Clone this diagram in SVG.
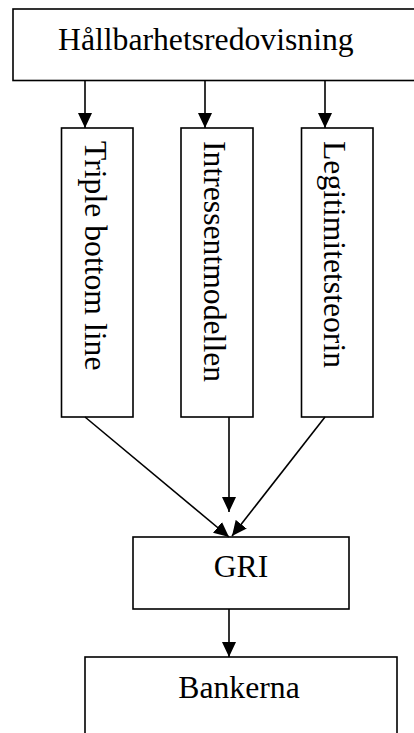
<svg xmlns="http://www.w3.org/2000/svg" width="414" height="733" viewBox="0 0 414 733">
  <style>
    .box { fill: #ffffff; stroke: #000000; stroke-width: 1.6; }
    .lbl { font-family: "Liberation Serif", "Times New Roman", serif; font-size: 31.7px; fill: #000000; }
    .conn { stroke: #000000; stroke-width: 1.6; fill: none; marker-end: url(#arrow); }
  </style>
  <defs>
    <marker id="arrow" markerUnits="userSpaceOnUse" markerWidth="15" markerHeight="14" refX="15" refY="7" orient="auto" viewBox="0 0 15 14">
      <path d="M0,0 L15,7 L0,14 z" fill="#000000"/>
    </marker>
  </defs>
  <rect width="414" height="733" fill="#ffffff"/>

  <g id="node-hallbarhetsredovisning">
    <rect class="box" x="13" y="9" width="420" height="71.5"/>
    <text class="lbl" x="58" y="50">Hållbarhetsredovisning</text>
  </g>

  <g id="node-triple">
    <rect class="box" x="61.5" y="128" width="71.5" height="289"/>
    <text class="lbl" transform="translate(85,141) rotate(90)">Triple bottom line</text>
  </g>

  <g id="node-intressent">
    <rect class="box" x="181" y="128" width="72" height="289"/>
    <text class="lbl" transform="translate(204,141) rotate(90)">Intressentmodellen</text>
  </g>

  <g id="node-legitimitet">
    <rect class="box" x="301.5" y="128" width="71.5" height="289"/>
    <text class="lbl" transform="translate(323.5,141) rotate(90)">Legitimitetsteorin</text>
  </g>

  <g id="node-gri">
    <rect class="box" x="133" y="537" width="216" height="72"/>
    <text class="lbl" x="241" y="577" text-anchor="middle">GRI</text>
  </g>

  <g id="node-bankerna">
    <rect class="box" x="85" y="657" width="312" height="120"/>
    <text class="lbl" x="239" y="698" text-anchor="middle">Bankerna</text>
  </g>

  <g id="connectors">
    <line class="conn" x1="85" y1="80.5" x2="85" y2="128"/>
    <line class="conn" x1="205" y1="80.5" x2="205" y2="128"/>
    <line class="conn" x1="325" y1="80.5" x2="325" y2="128"/>
    <line class="conn" x1="85" y1="417" x2="229" y2="537"/>
    <line class="conn" x1="229" y1="417" x2="229" y2="512"/>
    <line class="conn" x1="325" y1="417" x2="232" y2="536"/>
    <line class="conn" x1="229" y1="609" x2="229" y2="657"/>
  </g>
</svg>
